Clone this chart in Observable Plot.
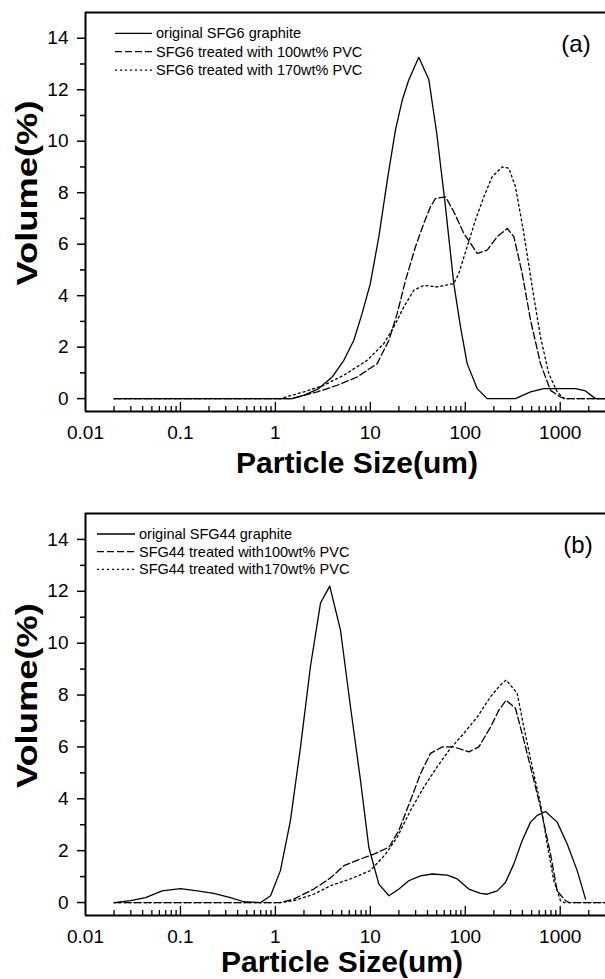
<!DOCTYPE html>
<html><head><meta charset="utf-8">
<script src="https://cdn.jsdelivr.net/npm/d3@7"></script>
<script src="https://cdn.jsdelivr.net/npm/@observablehq/plot@0.6"></script>
<style>
body{margin:0;background:#fff}
#chart svg{display:block}
</style></head><body><div id="chart"></div>
<script>
// ---- tick labels / tick positions ----
const xTickLabels = [0.01, 0.1, 1, 10, 100, 1000];
const xMajorTicks = [0.1, 1, 10, 100, 1000];
const xMinorTicks = [0.02,0.03,0.04,0.05,0.06,0.07,0.08,0.09,
  0.2,0.3,0.4,0.5,0.6,0.7,0.8,0.9, 2,3,4,5,6,7,8,9,
  20,30,40,50,60,70,80,90, 200,300,400,500,600,700,800,900, 2000];
const yTickLabels = [0, 2, 4, 6, 8, 10, 12, 14];
const yMinorTicks = [1, 3, 5, 7, 9, 11, 13];

// ---- panel (a) ----
const aNames = ["original SFG6 graphite", "SFG6 treated with 100wt% PVC", "SFG6 treated with 170wt% PVC"];
const aSolidX = [0.02,1.5,1.99,2.86,3.96,5.26,6.70,8.20,10.0,12.3,15.1,18.4,21.7,25.4,32.4,41.3,50.1,61.9,75.7,89.1,104.7,133.5,170,338,487,672,1007,1449,1848,2356,3000];
const aSolidY = [0,0,0.13,0.39,0.84,1.49,2.27,3.31,4.47,6.29,8.49,10.44,11.6,12.38,13.26,12.4,10.3,7.45,4.47,2.79,1.36,0.39,0,0,0.26,0.39,0.39,0.39,0.30,0,0];
const aDashX = [0.02,1.45,1.70,2.76,4.48,7.27,11.8,15.7,19.2,23.5,29.9,36.6,43,48.6,62,75.7,96.6,133.6,170,217,277,325,398,487,620,791,1007,1184,3000];
const aDashY = [0,0,0.06,0.26,0.52,0.84,1.36,2.27,3.31,4.6,5.9,6.81,7.45,7.78,7.84,7.26,6.42,5.64,5.77,6.29,6.61,6.29,4.86,3.05,1.36,0.32,0.06,0,0];
const aDotX = [0.02,1.15,1.28,1.99,3.24,5.26,9.27,13.9,17.7,22.5,28.7,36.6,50.5,75.7,85.4,104.7,128,157,192,245,288,338,414,507,620,759,929,1091,3000];
const aDotY = [0,0,0.06,0.26,0.52,0.91,1.49,2.14,2.79,3.56,4.21,4.4,4.34,4.47,4.86,5.9,6.94,7.84,8.62,9.0,8.95,8.23,6.42,4.34,2.4,0.97,0.26,0,0];

// ---- panel (b) ----
const bNames = ["original SFG44 graphite", "SFG44 treated with100wt% PVC", "SFG44 treated with170wt% PVC"];
const bSolidX = [0.02,0.0298,0.0429,0.0643,0.1,0.15,0.224,0.336,0.465,0.70,0.89,1.13,1.44,1.84,2.34,2.99,3.74,4.85,6.18,7.88,9.64,12.3,15.7,20,25.4,33.8,44.9,64.6,82.3,109,145,170,217,265,325,398,487,573,700,929,1185,1510,1848];
const bSolidY = [0,0.07,0.19,0.45,0.54,0.45,0.35,0.19,0.03,0,0.26,1.23,3.16,6.0,9.1,11.55,12.2,10.5,7.55,4.71,2.13,0.71,0.26,0.52,0.84,1.03,1.1,1.06,0.91,0.52,0.35,0.32,0.45,0.77,1.49,2.39,3.1,3.36,3.51,3.1,2.26,1.23,0.13];
const bDashX = [0.02,1.13,1.56,2.54,3.81,5.26,7.88,10.9,15.7,20,26.5,33.8,43,57.2,75.7,109,139,185,226,270,338,414,507,620,791,929,1137,1250,3000];
const bDashY = [0,0,0.13,0.52,0.95,1.42,1.68,1.87,2.13,2.78,3.94,4.97,5.75,6.0,6.0,5.81,6.0,6.77,7.42,7.8,7.49,6.26,4.97,3.68,1.87,0.45,0.07,0,0];
const bDotX = [0.02,1.13,1.56,2.54,3.81,6.18,10,14.5,19.2,26.5,36.6,50.5,69.8,96.6,134,185,235,270,352,414,507,620,729,857,1007,1100,3000];
const bDotY = [0,0,0.07,0.32,0.65,0.91,1.23,1.87,2.52,3.55,4.45,5.23,5.94,6.52,7.16,7.94,8.39,8.58,8.07,6.77,5.23,3.81,2.26,0.84,0.07,0,0];

const dashes = [null, "7,3", "2,3"];
const FONT = "'Liberation Sans', Arial, Helvetica, sans-serif";

function makePanel(cfg) {
  const W = 605;
  const innerH = cfg.height - cfg.marginTop - cfg.marginBottom;
  const series = cfg.series;
  const plot = Plot.plot({
    width: W, height: cfg.height,
    marginLeft: 85, marginRight: 0, marginTop: cfg.marginTop, marginBottom: cfg.marginBottom,
    style: {fontFamily: FONT, background: "white", color: "black", overflow: "visible"},
    x: {type: "log", domain: [0.01, 3000]},
    y: {domain: [-0.5, 15]},
    marks: [
      Plot.tickX(xMajorTicks, {x: d => d, insetTop: innerH - 9, stroke: "black", strokeWidth: 1.3}),
      Plot.tickX(xMinorTicks, {x: d => d, insetTop: innerH - 5, stroke: "black", strokeWidth: 1.3}),
      Plot.axisX({ticks: xTickLabels, tickSize: 0, tickPadding: 14, fontSize: 19, tickFormat: d => String(d), label: null}),
      Plot.axisY({ticks: yTickLabels, tickSize: 8, tickPadding: 9, fontSize: 19, strokeWidth: 1.5, label: null, tickFormat: d => String(d)}),
      Plot.axisY({ticks: yMinorTicks, tickSize: 5, strokeWidth: 1.5, text: null, label: null}),
      ...series.map((s, k) => Plot.line(s.x.map((x, i) => ({x, y: s.y[i]})), {
        x: "x", y: "y", stroke: "black", strokeWidth: 1.3,
        strokeDasharray: dashes[k] || undefined
      })),
      Plot.ruleY([15], {stroke: "black", strokeWidth: 2}),
      Plot.ruleY([-0.5], {stroke: "black", strokeWidth: 2}),
      Plot.ruleX([0.01], {stroke: "black", strokeWidth: 2})
    ]
  });
  const svg = d3.select(plot);
  // legend
  const lg = svg.append("g").attr("font-family", FONT).attr("font-size", 14.5).attr("text-anchor", "start");
  series.forEach((s, k) => {
    const y = cfg.legendY + k * cfg.legendStep;
    lg.append("line").attr("x1", cfg.legendX1).attr("x2", cfg.legendX2)
      .attr("y1", y).attr("y2", y).attr("stroke", "black").attr("stroke-width", 1.3)
      .attr("stroke-dasharray", dashes[k]);
    lg.append("text").attr("x", cfg.legendX2 + 4).attr("y", y).attr("dy", "0.35em")
      .attr("text-anchor", "start").text(s.name);
  });
  // panel tag
  svg.append("text").attr("x", cfg.tagX).attr("y", cfg.tagY).attr("text-anchor", "middle")
    .attr("font-family", FONT).attr("font-size", 24).text(cfg.tag);
  // axis titles
  svg.append("text").attr("transform", `translate(27,${cfg.yTitleY}) rotate(-90)`)
    .attr("text-anchor", "middle").attr("dy", "0.35em")
    .attr("font-family", FONT).attr("font-size", 29).attr("font-weight", "bold")
    .attr("textLength", 185).attr("lengthAdjust", "spacingAndGlyphs")
    .text("Volume(%)");
  svg.append("text").attr("x", cfg.xTitleX).attr("y", cfg.xTitleY)
    .attr("text-anchor", "middle")
    .attr("font-family", FONT).attr("font-size", 29).attr("font-weight", "bold")
    .attr("textLength", 242).attr("lengthAdjust", "spacingAndGlyphs")
    .text("Particle Size(um)");
  return plot;
}

const panelA = makePanel({
  height: 490, marginTop: 12, marginBottom: 79,
  series: [
    {name: aNames[0], x: aSolidX, y: aSolidY},
    {name: aNames[1], x: aDashX, y: aDashY},
    {name: aNames[2], x: aDotX, y: aDotY}
  ],
  legendX1: 115, legendX2: 152, legendY: 33.3, legendStep: 18.4,
  tag: "(a)", tagX: 576, tagY: 52,
  yTitleY: 193, xTitleX: 357, xTitleY: 473
});
const panelB = makePanel({
  height: 489, marginTop: 23, marginBottom: 64,
  series: [
    {name: bNames[0], x: bSolidX, y: bSolidY},
    {name: bNames[1], x: bDashX, y: bDashY},
    {name: bNames[2], x: bDotX, y: bDotY}
  ],
  legendX1: 97, legendX2: 135, legendY: 44, legendStep: 17.7,
  tag: "(b)", tagX: 578, tagY: 63,
  yTitleY: 205.6, xTitleX: 342, xTitleY: 482
});
document.getElementById("chart").append(panelA, panelB);
</script>
</body></html>
